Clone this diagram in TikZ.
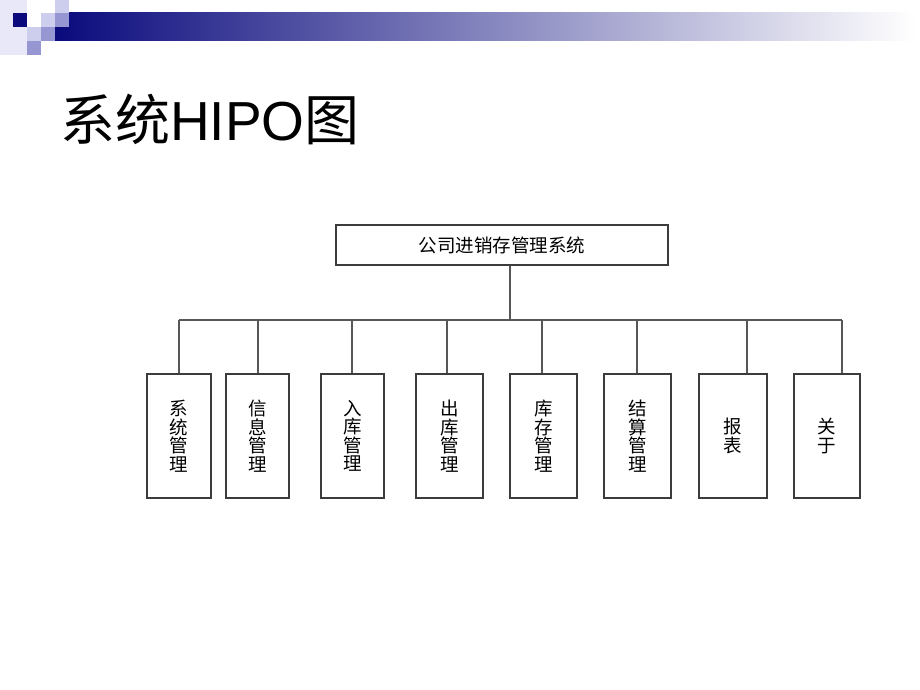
\documentclass[tikz,border=0pt]{standalone}
\usepackage{fontspec}
\setmainfont{Liberation Sans}
\newfontfamily\cjk{Noto Sans CJK SC}
\usepackage{xcolor}
\usetikzlibrary{positioning}
\definecolor{navy}{RGB}{10,10,125}
\definecolor{lavlight}{RGB}{205,205,238}
\definecolor{lavmid}{RGB}{150,150,210}
\definecolor{lavpale}{RGB}{232,232,248}
\definecolor{boxgray}{RGB}{60,60,60}
\definecolor{linegray}{RGB}{85,88,85}
\tikzset{
  topbox/.style={draw=boxgray,line width=1.5pt,minimum width=332pt,minimum height=40pt,inner sep=0pt,font=\cjk\fontsize{18.5}{19}\selectfont},
  subbox/.style={draw=boxgray,line width=1.5pt,minimum height=124pt,inner sep=0pt,align=center,font=\cjk\fontsize{18.5}{18.5}\selectfont},
  link/.style={draw=linegray,line width=1.5pt},
}
\begin{document}
\begin{tikzpicture}[x=1pt,y=-1pt]
    \useasboundingbox (0,0) rectangle (920,690);

    % corner decoration and bar
    \fill[lavpale] (0,0) rectangle (27,55);
    \shade[left color=navy,middle color={rgb,255:red,175;green,175;blue,220},right color=white] (55,13) rectangle (915,41);
    \fill[navy] (13,13) rectangle (27,27);
    \fill[lavlight] (27,27) rectangle (41,41);
    \fill[lavmid] (27,41) rectangle (41,55);
    \fill[lavlight] (41,13) rectangle (55,27);
    \fill[lavmid] (41,27) rectangle (55,41);
    \fill[lavlight] (55,0) rectangle (69,13);
    \fill[lavmid] (55,13) rectangle (69,27);

    % title
    \node[anchor=base west,inner sep=0pt,font=\fontsize{55}{60}\selectfont] (title) at (60,140) {{\cjk 系统}HIPO{\cjk 图}};

    % root
    \node[topbox] (root) at (502,245) {公司进销存管理系统};

    % modules
    \node[subbox,minimum width=64pt] (xtgl) at (179,436) {系\\统\\管\\理};
    \node[subbox,minimum width=63pt] (xxgl) at (257.5,436) {信\\息\\管\\理};
    \node[subbox,minimum width=63pt] (rkgl) at (352.5,436) {入\\库\\管\\理};
    \node[subbox,minimum width=67pt] (ckgl) at (449.5,436) {出\\库\\管\\理};
    \node[subbox,minimum width=67pt] (kcgl) at (543.5,436) {库\\存\\管\\理};
    \node[subbox,minimum width=67pt] (jsgl) at (637.5,436) {结\\算\\管\\理};
    \node[subbox,minimum width=68pt] (bb) at (733,436) {报\\表};
    \node[subbox,minimum width=66pt] (gy) at (827,436) {关\\于};

    % joints on the bar
    \coordinate (stem) at (510,320);
    \coordinate (j1) at (179,320);
    \coordinate (j2) at (258,320);
    \coordinate (j3) at (352,320);
    \coordinate (j4) at (447,320);
    \coordinate (j5) at (542,320);
    \coordinate (j6) at (637,320);
    \coordinate (j7) at (747,320);
    \coordinate (j8) at (842,320);

    \draw[link] (root.south -| stem) -- (stem);
    \draw[link] (j1) -- (j8);
    \draw[link] (j1) -- (j1 |- xtgl.north);
    \draw[link] (j2) -- (j2 |- xxgl.north);
    \draw[link] (j3) -- (j3 |- rkgl.north);
    \draw[link] (j4) -- (j4 |- ckgl.north);
    \draw[link] (j5) -- (j5 |- kcgl.north);
    \draw[link] (j6) -- (j6 |- jsgl.north);
    \draw[link] (j7) -- (j7 |- bb.north);
    \draw[link] (j8) -- (j8 |- gy.north);
\end{tikzpicture}
\end{document}
